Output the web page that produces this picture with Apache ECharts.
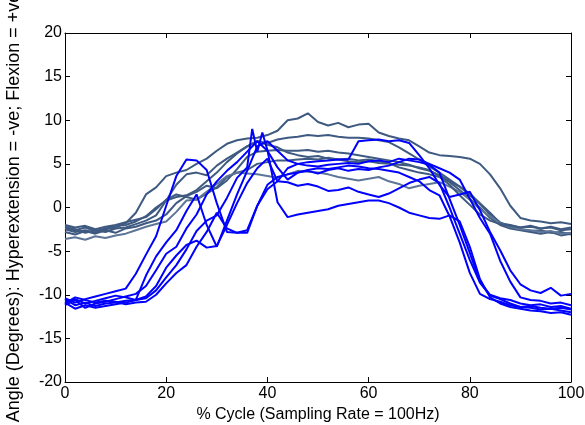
<!DOCTYPE html>
<html>
<head>
<meta charset="utf-8">
<script src="https://cdn.jsdelivr.net/npm/echarts@6/dist/echarts.min.js"></script>
<style>html,body{margin:0;padding:0;background:#fff;}#c{width:585px;height:425px;}</style>
</head>
<body>
<div id="c"></div>
<script>
const cycle = [0,2,4,6,8,10,12,14,16,18,20,22,24,26,28,30,32,34,36,38,40,42,44,46,48,50,52,54,56,58,60,62,64,66,68,70,72,74,76,78,80,82,84,86,88,90,92,94,96,98,100];
const spikeCycle = [0,2,4,6,8,10,12,14,16,18,20,22,24,26,28,30,32,34,36,37,38,39,40,42,44,46,48,50,52,54,56,58,60,62,64,66,68,70,72,74,76,78,80,82,84,86,88,90,92,94,96,98,100];
const xTicks = [0,20,40,60,80,100];
const yTicks = [-20,-15,-10,-5,0,5,10,15,20];

const gray1 = [-2.5,-2.8,-2.6,-2.9,-2.5,-2.3,-1.8,-0.6,1.5,2.3,3.6,4.0,4.3,5.0,5.6,6.5,7.3,7.7,7.9,8.0,8.3,8.8,10.0,10.2,10.8,9.8,9.4,9.7,9.2,9.5,9.6,8.6,8.2,7.9,7.7,7.0,6.3,6.0,5.9,5.8,5.6,5.0,3.8,2.2,0.2,-1.2,-1.5,-1.6,-1.8,-1.7,-1.9];
const gray2 = [-2.2,-2.5,-2.9,-2.6,-2.8,-2.4,-2.3,-1.9,-1.5,-0.9,0.8,2.6,3.8,4.0,3.7,4.8,5.6,6.3,7.0,7.6,7.4,7.8,8.0,8.1,8.3,8.2,8.3,8.1,8.0,8.0,7.9,7.7,7.5,6.9,6.2,5.5,4.7,4.0,3.2,2.4,1.6,0.5,-0.6,-1.8,-2.0,-2.3,-2.1,-2.4,-2.2,-2.5,-2.3];
const gray3 = [-2.8,-3.1,-2.7,-3.0,-2.6,-2.9,-2.4,-2.2,-1.8,-1.5,-0.8,0.5,1.3,1.8,2.5,2.2,3.1,4.4,5.8,6.4,6.5,6.6,6.5,6.5,6.6,6.4,6.5,6.3,6.2,6.0,5.8,5.6,5.4,5.2,4.9,4.5,4.2,3.7,3.0,2.4,1.4,0.4,-0.8,-1.7,-2.2,-2.5,-2.7,-2.6,-2.9,-2.8,-3.1];
const gray4 = [-2.0,-2.3,-2.1,-2.5,-2.2,-2.0,-1.7,-1.4,-1.1,-0.2,0.9,1.5,1.2,0.9,1.6,2.3,3.5,4.0,4.3,5.0,5.2,5.4,5.4,5.5,5.6,5.5,5.7,5.5,5.3,5.2,5.3,5.1,5.0,4.9,4.8,4.6,4.3,3.6,2.9,2.0,1.0,0.0,-1.2,-2.0,-2.4,-2.6,-2.8,-3.0,-2.8,-3.2,-3.0];
const gray5 = [-3.6,-3.4,-3.7,-3.3,-3.5,-3.2,-3.0,-2.6,-2.2,-1.9,-1.6,-0.5,0.8,0.9,1.8,2.7,3.6,4.0,3.9,3.8,3.6,3.4,3.8,4.2,4.1,4.0,3.8,3.5,3.3,3.1,3.3,3.5,3.0,2.7,2.2,2.5,2.7,2.9,2.4,1.8,0.9,-0.2,-1.0,-1.8,-2.2,-2.5,-2.6,-2.8,-2.7,-3.0,-2.9];
const gray6 = [-2.4,-2.6,-2.3,-2.7,-2.4,-2.1,-2.0,-1.6,-1.0,0.0,0.8,1.2,1.4,2.0,3.0,4.0,5.2,6.2,7.0,7.6,7.2,6.9,6.3,6.0,5.8,5.9,5.6,5.5,5.6,5.4,5.5,5.3,5.1,4.6,4.3,4.0,3.8,3.5,2.6,1.4,0.3,-0.8,-1.5,-1.9,-2.1,-2.3,-2.2,-2.4,-2.3,-2.6,-2.5];

const blue1 = [-10.4,-10.9,-10.5,-10.2,-9.9,-9.6,-9.3,-7.6,-5.4,-3.3,0.2,3.6,5.5,5.4,4.3,0.5,-2.8,-2.9,-2.6,0.2,2.1,3.0,4.5,5.0,5.2,5.3,5.4,5.5,5.5,7.6,7.7,7.8,7.6,7.7,7.4,6.0,4.5,2.6,1.2,1.5,1.8,-0.3,-2.8,-4.9,-7.2,-8.8,-9.5,-9.8,-9.2,-10.1,-9.9];
const blue2 = [-10.8,-10.5,-11.0,-10.7,-10.4,-10.1,-10.3,-10.6,-7.8,-5.6,-4.0,-2.6,-0.4,1.5,-2.0,-4.5,-1.5,1.5,4.2,7.0,7.6,6.5,5.4,5.0,4.8,4.7,4.9,5.0,5.1,5.0,5.3,5.4,5.2,5.6,5.4,5.2,4.9,4.0,1.0,-2.0,-5.2,-8.5,-10.0,-10.4,-10.6,-11.0,-11.2,-11.1,-11.4,-11.3,-11.6];
const blue3 = [-11.2,-10.6,-11.5,-11.0,-10.8,-10.5,-10.2,-9.9,-9.0,-7.2,-5.3,-4.5,-2.4,-0.8,1.5,3.0,4.2,5.2,6.4,7.6,6.5,4.6,3.2,4.0,4.2,3.9,4.3,4.5,4.2,4.4,4.3,4.6,4.8,5.2,5.6,5.5,5.0,4.5,4.0,3.2,1.0,-1.2,-3.0,-6.1,-8.5,-10.3,-10.6,-10.7,-11.0,-10.9,-11.2];
const blue4 = [-10.5,-11.2,-10.9,-11.3,-11.0,-10.9,-10.7,-10.6,-10.2,-9.0,-6.9,-5.5,-4.3,-3.8,-4.6,-4.4,-2.0,0.5,2.8,4.5,5.6,3.0,2.9,2.5,2.7,2.4,1.9,2.0,2.3,1.8,1.5,1.2,1.6,2.2,2.8,3.2,3.5,2.8,0.0,-3.0,-6.0,-8.6,-10.1,-10.5,-11.0,-11.4,-11.5,-11.7,-11.6,-11.8,-12.0];
const blue5 = [-11.0,-10.3,-10.6,-10.9,-10.7,-10.8,-11.1,-10.9,-10.8,-10.0,-8.7,-7.5,-6.6,-4.5,-2.8,-0.6,-2.4,-2.9,-2.9,0.2,2.6,3.5,3.8,4.0,4.3,4.5,4.4,4.6,4.8,4.7,4.5,4.4,4.2,4.0,3.5,3.0,2.0,1.4,-1.0,-4.0,-7.5,-9.9,-10.5,-10.8,-11.2,-11.4,-11.3,-11.5,-11.6,-11.5,-11.7];
const blue6 = [-10.9,-11.6,-11.2,-11.5,-11.3,-11.1,-10.9,-10.6,-10.4,-9.5,-8.0,-6.6,-4.8,-2.7,-1.5,-0.9,1.1,3.4,4.6,9.0,6.4,8.6,6.6,0.6,-1.1,-0.8,-0.6,-0.4,-0.2,0.2,0.4,0.6,0.8,0.8,0.5,0.0,-0.6,-0.9,-1.2,-1.3,-0.9,-1.6,-4.5,-8.2,-10.3,-11.0,-11.4,-11.6,-11.8,-11.9,-12.1,-12.0,-12.3];

const GRAY = '#3f5a80', GRAY_L = '#5d7597', BLUE = '#0000ff';
const lines = [
  {x: cycle, y: gray1, c: GRAY},
  {x: cycle, y: gray2, c: GRAY},
  {x: cycle, y: gray3, c: GRAY},
  {x: cycle, y: gray4, c: GRAY},
  {x: cycle, y: gray5, c: GRAY_L},
  {x: cycle, y: gray6, c: GRAY},
  {x: cycle, y: blue1, c: BLUE},
  {x: cycle, y: blue2, c: BLUE},
  {x: cycle, y: blue3, c: BLUE},
  {x: cycle, y: blue4, c: BLUE},
  {x: cycle, y: blue5, c: BLUE},
  {x: spikeCycle, y: blue6, c: BLUE}
];

const FONT = "'Liberation Sans', Arial, sans-serif";
const axisCommon = {
  axisLine: {show: true, onZero: false, lineStyle: {color: '#000', width: 1}},
  axisTick: {show: true, inside: true, length: 5, lineStyle: {color: '#000', width: 1}},
  splitLine: {show: false}
};

const chart = echarts.init(document.getElementById('c'), null, {renderer: 'canvas'});
chart.setOption({
  animation: false,
  backgroundColor: '#fff',
  grid: {left: 65, right: 14, top: 33, bottom: 43, containLabel: false, outerBoundsMode: 'none'},
  xAxis: [
    Object.assign({type: 'value', min: xTicks[0], max: xTicks[xTicks.length-1], interval: 20, position: 'bottom',
      name: '% Cycle (Sampling Rate = 100Hz)', nameLocation: 'middle', nameGap: 23,
      nameTextStyle: {fontFamily: FONT, fontSize: 16, color: '#000'},
      axisLabel: {fontFamily: FONT, fontSize: 16, color: '#000', margin: 4}}, axisCommon),
    Object.assign({type: 'value', min: xTicks[0], max: xTicks[xTicks.length-1], interval: 20, position: 'top',
      axisLabel: {show: false}}, axisCommon)
  ],
  yAxis: [
    Object.assign({type: 'value', min: yTicks[0], max: yTicks[yTicks.length-1], interval: 5, position: 'left',
      name: 'Angle (Degrees): Hyperextension = -ve; Flexion = +ve', nameLocation: 'middle', nameGap: 42, nameRotate: 90,
      nameTextStyle: {fontFamily: FONT, fontSize: 18, color: '#000'},
      axisLabel: {fontFamily: FONT, fontSize: 16, color: '#000', margin: 3}}, axisCommon),
    Object.assign({type: 'value', min: yTicks[0], max: yTicks[yTicks.length-1], interval: 5, position: 'right',
      axisLabel: {show: false}}, axisCommon)
  ],
  series: lines.map(l => ({
    type: 'line',
    xAxisIndex: 0, yAxisIndex: 0,
    showSymbol: false,
    symbol: 'none',
    lineStyle: {color: l.c, width: 2},
    data: l.x.map((v, i) => [v, l.y[i]])
  }))
});
</script>
</body>
</html>
